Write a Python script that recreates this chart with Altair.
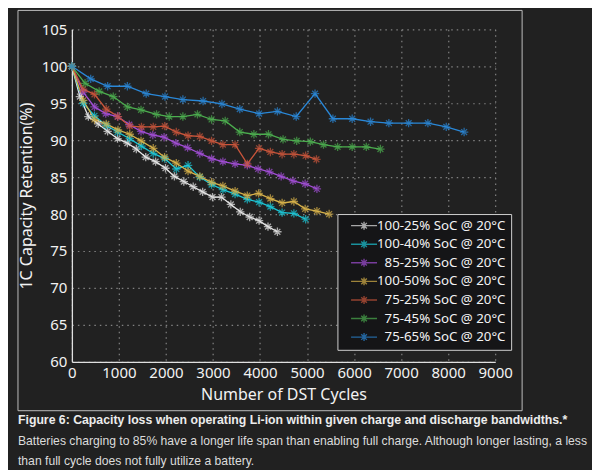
import altair as alt
import pandas as pd

series_names = [
    "100-25% SoC @ 20°C",
    "100-40% SoC @ 20°C",
    "85-25% SoC @ 20°C",
    "100-50% SoC @ 20°C",
    "75-25% SoC @ 20°C",
    "75-45% SoC @ 20°C",
    "75-65% SoC @ 20°C",
]
series_colors = ["#e6e6e6", "#1cc6d6", "#a24ed6", "#d8b24a", "#c9553b", "#4cae4f", "#2a88d8"]

cycles_100_25 = [0, 170, 350, 560, 760, 970, 1180, 1370, 1570, 1780, 1990, 2180, 2380, 2580, 2780, 2990, 3180, 3380, 3580, 3780, 3980, 4170, 4370]
ret_100_25 = [100, 95.9, 93.2, 92.2, 91.2, 90.2, 89.6, 88.8, 87.7, 87.1, 86.2, 85.1, 84.4, 83.7, 83.0, 82.3, 82.3, 81.3, 80.3, 79.6, 79.1, 78.3, 77.6]

cycles_100_40 = [0, 240, 480, 730, 970, 1230, 1480, 1730, 1975, 2220, 2470, 2720, 2970, 3210, 3470, 3730, 3980, 4220, 4470, 4720, 4970]
ret_100_40 = [100, 95.0, 93.3, 92.0, 91.1, 90.2, 89.2, 88.2, 87.5, 86.1, 86.6, 85.0, 84.0, 83.3, 82.7, 82.0, 81.6, 81.0, 80.2, 80.1, 79.3]

cycles_85_25 = [0, 240, 480, 720, 970, 1220, 1470, 1720, 1960, 2210, 2460, 2720, 2970, 3210, 3470, 3730, 3960, 4200, 4450, 4700, 4960, 5210]
ret_85_25 = [100, 96.5, 94.5, 93.6, 93.2, 92.1, 91.2, 90.7, 90.4, 89.6, 89.0, 88.2, 87.5, 87.1, 86.8, 86.6, 86.1, 85.7, 85.1, 84.5, 84.1, 83.4]

cycles_100_50 = [0, 240, 480, 730, 980, 1230, 1470, 1730, 1970, 2220, 2470, 2720, 2970, 3210, 3470, 3730, 3970, 4220, 4470, 4720, 4960, 5210, 5470]
ret_100_50 = [100, 95.4, 92.8, 92.2, 91.4, 90.8, 89.9, 88.9, 87.7, 86.9, 85.8, 85.1, 84.3, 83.8, 83.1, 82.5, 82.8, 82.1, 81.5, 81.7, 80.7, 80.4, 80.0]

cycles_75_25 = [0, 240, 480, 730, 980, 1230, 1480, 1730, 1975, 2220, 2470, 2720, 2970, 3210, 3470, 3730, 3980, 4220, 4470, 4720, 4970, 5200]
ret_75_25 = [100, 96.9, 96.2, 94.2, 93.2, 91.9, 91.8, 91.8, 91.9, 91.1, 90.6, 90.5, 89.9, 89.4, 89.4, 86.8, 88.9, 88.4, 88.1, 88.1, 87.9, 87.4]

cycles_75_45 = [0, 280, 580, 880, 1180, 1470, 1800, 2070, 2360, 2670, 2970, 3260, 3570, 3870, 4180, 4490, 4780, 5070, 5350, 5650, 5960, 6260, 6560]
ret_75_45 = [100, 97.7, 96.6, 95.9, 94.5, 94.1, 93.5, 93.2, 93.2, 93.5, 92.8, 92.6, 91.1, 90.8, 90.8, 90.1, 89.9, 89.8, 89.4, 89.1, 89.1, 89.1, 88.8]

cycles_75_65 = [0, 400, 760, 1180, 1580, 1980, 2360, 2790, 3190, 3570, 3980, 4370, 4770, 5170, 5550, 5960, 6350, 6740, 7160, 7570, 7960, 8340]
ret_75_65 = [100, 98.3, 97.3, 97.3, 96.3, 95.9, 95.5, 95.3, 94.9, 94.2, 93.6, 93.9, 93.2, 96.3, 92.9, 92.9, 92.5, 92.3, 92.3, 92.3, 91.8, 91.1]

x_ticks = [0, 1000, 2000, 3000, 4000, 5000, 6000, 7000, 8000, 9000]
y_ticks = [60, 65, 70, 75, 80, 85, 90, 95, 100, 105]

caption_title = "Figure 6: Capacity loss when operating Li-ion within given charge and discharge bandwidths.*"
caption_lines = [
    "Batteries charging to 85% have a longer life span than enabling full charge. Although longer lasting, a less",
    "than full cycle does not fully utilize a battery.",
]

all_cycles = [cycles_100_25, cycles_100_40, cycles_85_25, cycles_100_50, cycles_75_25, cycles_75_45, cycles_75_65]
all_ret = [ret_100_25, ret_100_40, ret_85_25, ret_100_50, ret_75_25, ret_75_45, ret_75_65]

rows = []
for i, (name, xs, ys) in enumerate(zip(series_names, all_cycles, all_ret)):
    for x, y in zip(xs, ys):
        rows.append({"series": name, "order": i, "cycles": x, "retention": y})
df = pd.DataFrame(rows)

W, H = 424, 333
FONT = "Noto Sans"

asterisk = "M-1,0L1,0M0,-1L0,1M-0.7,-0.7L0.7,0.7M-0.7,0.7L0.7,-0.7"
# legend symbol: a short line with an asterisk in the middle (unit = 5px with symbolSize 100)
legend_sym = "M-2.6,0L2.6,0M0,-0.8L0,0.8M-0.56,-0.56L0.56,0.56M-0.56,0.56L0.56,-0.56"

color = alt.Color(
    "series:N",
    scale=alt.Scale(domain=series_names, range=series_colors),
    legend=alt.Legend(
        title=None,
        orient="none",
        legendX=266,
        legendY=185,
        strokeColor="#cfcfcf",
        fillColor="#151517",
        padding=5,
        symbolType=legend_sym,
        symbolSize=100,
        symbolStrokeWidth=1.4,
        symbolOffset=15,
        labelFont=FONT,
        labelFontSize=13.3,
        labelColor="#f2f2f2",
        labelAlign="right",
        labelOffset=135,
        labelLimit=220,
        rowPadding=3.6,
    ),
)

xenc = alt.X(
    "cycles:Q",
    scale=alt.Scale(domain=[0, 9000], nice=False),
    axis=alt.Axis(
        values=x_ticks,
        title="Number of DST Cycles",
        format="d",
        labelOverlap=False,
        labelFlush=False,
    ),
)
yenc = alt.Y(
    "retention:Q",
    scale=alt.Scale(domain=[60, 105], nice=False, zero=False),
    axis=alt.Axis(
        values=y_ticks,
        title="1C Capacity Retention(%)",
        labelOverlap=False,
        labelFlush=False,
    ),
)

base = alt.Chart(df)
lines = base.mark_line(strokeWidth=1.3).encode(
    x=xenc, y=yenc, color=color, detail="series:N", order="cycles:Q"
)
points = base.mark_point(shape=asterisk, filled=False, size=70, strokeWidth=1.3).encode(
    x=xenc, y=yenc, color=color
)

one = pd.DataFrame({"k": [0]})
frame = alt.Chart(one).mark_rect(fill="transparent", stroke="#bdbdbd", strokeWidth=1).encode(
    x=alt.value(-54), x2=alt.value(451), y=alt.value(-19), y2=alt.value(382)
)
cap1 = alt.Chart(one).mark_text(
    align="left", baseline="middle", font="Liberation Sans", fontSize=12.3, fontWeight="bold", color="#ececec"
).encode(x=alt.value(-54), y=alt.value(391), text=alt.value(caption_title))
cap2 = alt.Chart(one).mark_text(
    align="left", baseline="middle", font="Liberation Sans", fontSize=12.2, color="#dcdcdc"
).encode(x=alt.value(-54), y=alt.value(412), text=alt.value(caption_lines[0]))
cap3 = alt.Chart(one).mark_text(
    align="left", baseline="middle", font="Liberation Sans", fontSize=12.2, color="#dcdcdc"
).encode(x=alt.value(-54), y=alt.value(432), text=alt.value(caption_lines[1]))

chart = (
    alt.layer(frame, lines, points, cap1, cap2, cap3)
    .properties(
        width=W,
        height=H,
        autosize=alt.AutoSizeParams(type="none"),
        padding={"left": 64, "top": 21, "right": 97, "bottom": 108},
        background="#212121",
    )
    .configure_view(strokeWidth=0)
    .configure_axis(
        labelFont=FONT,
        labelFontSize=15,
        labelColor="#f2f2f2",
        titleFont=FONT,
        titleFontSize=16,
        titleFontWeight="normal",
        titleColor="#f2f2f2",
        domainColor="#e0e0e0",
        domainWidth=1.3,
        ticks=False,
        gridColor="#9a9a9a",
        gridDash=[1.5, 4],
        gridWidth=1.2,
        gridOpacity=0.8,
    )
    .configure_axisX(labelPadding=4, titlePadding=6)
    .configure_axisY(labelPadding=5, titlePadding=7)
)

chart.save("out.html", embed_options={"renderer": "svg", "actions": False})
